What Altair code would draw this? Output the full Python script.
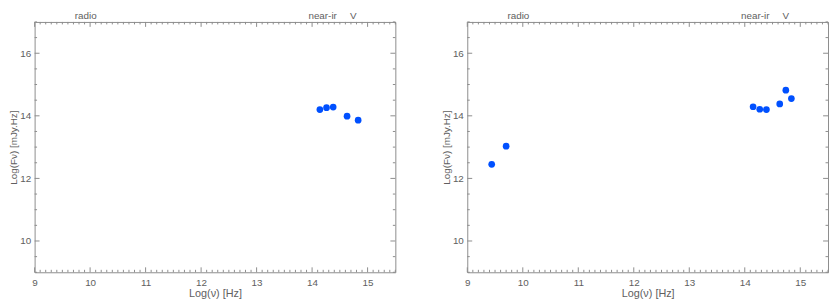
import altair as alt
import pandas as pd
import numpy as np

# ---- data ----
left_lognu = [14.14, 14.26, 14.38, 14.63, 14.83]
left_logf = [14.20, 14.26, 14.28, 13.99, 13.86]

right_lognu = [9.44, 9.70, 14.15, 14.27, 14.39, 14.63, 14.74, 14.84]
right_logf = [12.45, 13.03, 14.29, 14.21, 14.20, 14.38, 14.82, 14.55]

band_names = ["radio", "near-ir", "V"]
band_pos = [9.92, 14.19, 14.74]

x_major = [9, 10, 11, 12, 13, 14, 15]
y_major = [10, 12, 14, 16]

X_DOMAIN = [9, 15.5]
Y_DOMAIN = [9, 17]

W, H = 366, 254
MAJ, MIN = 5, 2.5
GRAY = "#8c8c8c"
TXT = "#606060"
FONT = "Liberation Sans"

x_ticks_all = [round(v, 1) for v in np.arange(9.0, 15.5001, 0.1)]
y_ticks_all = [round(v, 1) for v in np.arange(9.0, 17.0001, 0.5)]
xt = pd.DataFrame({"v": x_ticks_all})
xt["major"] = xt["v"].apply(lambda v: abs(v - round(v)) < 1e-6)
yt = pd.DataFrame({"v": y_ticks_all})
yt["major"] = yt["v"].apply(lambda v: abs(v - round(v)) < 1e-6 and int(round(v)) % 2 == 0)

xs = alt.Scale(domain=X_DOMAIN, nice=False, zero=False)
ys = alt.Scale(domain=Y_DOMAIN, nice=False, zero=False)


def panel(xv, yv):
    pts = pd.DataFrame({"lognu": xv, "logf": yv})
    xaxis = alt.Axis(values=x_major, format="d", ticks=False, tickSize=0, domain=False, grid=False,
                     labelPadding=5, titlePadding=1, labelFont=FONT, titleFont=FONT,
                     labelFontSize=10, titleFontSize=11, labelColor=TXT, titleColor=TXT,
                     titleFontWeight="normal", labelFlush=False)
    yaxis = alt.Axis(values=y_major, format="d", ticks=False, tickSize=0, domain=False, grid=False,
                     labelPadding=4, titlePadding=1, labelFont=FONT, titleFont=FONT,
                     labelFontSize=10, titleFontSize=10, labelColor=TXT, titleColor=TXT,
                     titleFontWeight="normal", labelFlush=False)
    base = alt.Chart(pts).mark_circle(size=46, color="#0050ff", opacity=1).encode(
        x=alt.X("lognu:Q", scale=xs, axis=xaxis, title="Log(ν) [Hz]"),
        y=alt.Y("logf:Q", scale=ys, axis=yaxis, title="Log(Fν) [mJy.Hz]"),
    )
    layers = [base]
    for size, flt in [(MAJ, True), (MIN, False)]:
        sx = xt[xt["major"] == flt]
        sy = yt[yt["major"] == flt]
        layers.append(alt.Chart(sx).mark_rule(color=GRAY, strokeWidth=1).encode(
            x=alt.X("v:Q", scale=xs), y=alt.value(H), y2=alt.value(H - size)))
        layers.append(alt.Chart(sx).mark_rule(color=GRAY, strokeWidth=1).encode(
            x=alt.X("v:Q", scale=xs), y=alt.value(0), y2=alt.value(size)))
        layers.append(alt.Chart(sy).mark_rule(color=GRAY, strokeWidth=1).encode(
            y=alt.Y("v:Q", scale=ys), x=alt.value(0), x2=alt.value(size)))
        layers.append(alt.Chart(sy).mark_rule(color=GRAY, strokeWidth=1).encode(
            y=alt.Y("v:Q", scale=ys), x=alt.value(W), x2=alt.value(W - size)))
    bands = pd.DataFrame({"name": band_names, "pos": band_pos})
    layers.append(alt.Chart(bands).mark_text(font=FONT, fontSize=10, color=TXT,
                                             baseline="bottom", align="center").encode(
        x=alt.X("pos:Q", scale=xs), y=alt.value(-1), text="name:N"))
    return alt.layer(*layers).properties(width=W, height=H)


chart = alt.hconcat(panel(left_lognu, left_logf), panel(right_lognu, right_logf),
                    spacing=45).configure_view(stroke=GRAY, strokeWidth=1).properties(
    padding={"left": 0, "top": 0, "right": 0, "bottom": 0}, background="white")

chart.save("out.html", embed_options={"renderer": "svg", "actions": False})
